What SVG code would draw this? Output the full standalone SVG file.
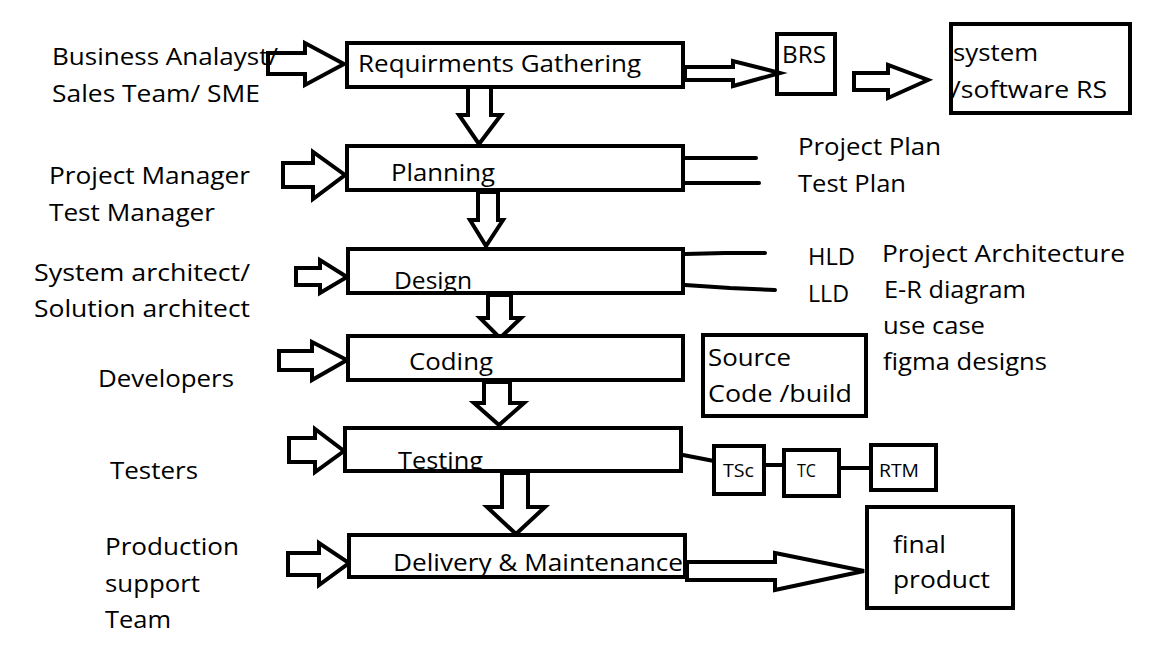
<svg xmlns="http://www.w3.org/2000/svg" width="1152" height="648" viewBox="0 0 1152 648">
  <style>
    .box { fill: none; stroke: #000; stroke-width: 4; }
    .arr { fill: #fff; stroke: #000; stroke-width: 4; stroke-linejoin: miter; }
    .ln { fill: none; stroke: #000; stroke-width: 4; stroke-linecap: round; }
    text { font-family: "Open Sans", "Noto Sans", sans-serif; font-size: 24px; fill: #000; }
    .sm { font-size: 19px; }
  </style>
  <defs>
    <!-- keeps the Testing label inside its box -->
    <clipPath id="testing-clip">
      <rect x="345" y="428" width="336" height="43"/>
    </clipPath>
  </defs>
  <rect width="1152" height="648" fill="#fff"/>

  <!-- connectors: block arrows and plain lines -->
  <g id="connectors">
    <!-- inputs from roles -->
    <polygon class="arr" points="268,53 305,53 305,43 344,64 305,85 305,74 268,74"/>
    <polygon class="arr" points="283,163 313,163 313,152 345,175 313,199 313,187 283,187"/>
    <polygon class="arr" points="296,268 320,268 320,260 347,277 320,293 320,285 296,285"/>
    <polygon class="arr" points="279,351 312,351 312,342 347,360 312,380 312,370 279,370"/>
    <polygon class="arr" points="289,438 315,438 315,429 344,451 315,472 315,462 289,462"/>
    <polygon class="arr" points="288,553 319,553 319,543 349,563 319,585 319,575 288,575"/>
    <!-- phase to phase -->
    <polygon class="arr" points="468,87 491,87 491,115 501,115 479,144 459,115 468,115"/>
    <polygon class="arr" points="478,192 498,192 498,220 503,220 486,246 470,220 478,220"/>
    <polygon class="arr" points="488,295 511,295 511,318 521,318 500,338 480,318 488,318"/>
    <polygon class="arr" points="484,382 510,382 510,403 524,403 499,425 474,403 484,403"/>
    <polygon class="arr" points="502,473 528,473 528,507 545,507 516,534 487,507 502,507"/>
    <!-- outputs -->
    <polygon class="arr" points="685,67 733,67 733,61 780,73 733,86 733,80 685,80"/>
    <polygon class="arr" points="854,73 888,73 888,65 928,80 888,98 888,90 854,90"/>
    <polygon class="arr" points="687,562 775,562 775,553 864,571 775,590 775,580 687,580"/>
    <!-- plan / design outputs -->
    <line class="ln" x1="684" y1="158" x2="756" y2="158"/>
    <line class="ln" x1="684" y1="183" x2="759" y2="183"/>
    <polyline class="ln" points="685,254 725,253 765,253"/>
    <polyline class="ln" points="685,285 730,288 775,290"/>
    <!-- test artefacts chain -->
    <line class="ln" x1="683" y1="455" x2="714" y2="461"/>
    <line class="ln" x1="764" y1="465" x2="784" y2="465"/>
    <line class="ln" x1="839" y1="468" x2="871" y2="468"/>
  </g>

  <!-- role labels on the left -->
  <g id="roles">
    <text x="52" y="65" textLength="226" lengthAdjust="spacingAndGlyphs">Business Analayst/</text>
    <text x="52" y="102" textLength="208" lengthAdjust="spacingAndGlyphs">Sales Team/ SME</text>
    <text x="49" y="184" textLength="201" lengthAdjust="spacingAndGlyphs">Project Manager</text>
    <text x="49" y="221" textLength="166" lengthAdjust="spacingAndGlyphs">Test Manager</text>
    <text x="34" y="281" textLength="216" lengthAdjust="spacingAndGlyphs">System architect/</text>
    <text x="34" y="317" textLength="216" lengthAdjust="spacingAndGlyphs">Solution architect</text>
    <text x="98" y="387" textLength="136" lengthAdjust="spacingAndGlyphs">Developers</text>
    <text x="110" y="479" textLength="88" lengthAdjust="spacingAndGlyphs">Testers</text>
    <text x="105" y="555" textLength="134" lengthAdjust="spacingAndGlyphs">Production</text>
    <text x="105" y="592" textLength="95" lengthAdjust="spacingAndGlyphs">support</text>
    <text x="105" y="628" textLength="66" lengthAdjust="spacingAndGlyphs">Team</text>
  </g>

  <!-- phases -->
  <g id="requirements">
    <rect x="347" y="43" width="336" height="44" fill="#fff"/>
    <text x="358" y="72" textLength="283" lengthAdjust="spacingAndGlyphs">Requirments Gathering</text>
    <rect class="box" x="347" y="43" width="336" height="44"/>
  </g>
  <g id="planning">
    <rect x="347" y="146" width="336" height="44" fill="#fff"/>
    <text x="391" y="181" textLength="104" lengthAdjust="spacingAndGlyphs">Planning</text>
    <rect class="box" x="347" y="146" width="336" height="44"/>
  </g>
  <g id="design">
    <rect x="348" y="249" width="335" height="44" fill="#fff"/>
    <text x="394" y="289" textLength="78" lengthAdjust="spacingAndGlyphs">Design</text>
    <rect class="box" x="348" y="249" width="335" height="44"/>
  </g>
  <g id="coding">
    <rect x="348" y="336" width="335" height="44" fill="#fff"/>
    <text x="409" y="370" textLength="84" lengthAdjust="spacingAndGlyphs">Coding</text>
    <rect class="box" x="348" y="336" width="335" height="44"/>
  </g>
  <g id="testing">
    <rect x="345" y="428" width="336" height="43" fill="#fff"/>
    <text x="398" y="469" textLength="85" lengthAdjust="spacingAndGlyphs" clip-path="url(#testing-clip)">Testing</text>
    <rect class="box" x="345" y="428" width="336" height="43"/>
  </g>
  <g id="delivery">
    <rect x="349" y="535" width="336" height="42" fill="#fff"/>
    <text x="393" y="571" textLength="290" lengthAdjust="spacingAndGlyphs">Delivery &amp; Maintenance</text>
    <rect class="box" x="349" y="535" width="336" height="42"/>
  </g>

  <!-- artefacts -->
  <g id="brs">
    <rect class="box" x="777" y="34" width="58" height="60"/>
    <text x="782" y="63" textLength="44" lengthAdjust="spacingAndGlyphs">BRS</text>
  </g>
  <g id="srs">
    <rect class="box" x="951" y="24" width="179" height="89"/>
    <text x="953" y="61" textLength="85" lengthAdjust="spacingAndGlyphs">system</text>
    <text x="951" y="98" textLength="156" lengthAdjust="spacingAndGlyphs">/software RS</text>
  </g>
  <g id="plans">
    <text x="798" y="155" textLength="143" lengthAdjust="spacingAndGlyphs">Project Plan</text>
    <text x="798" y="192" textLength="108" lengthAdjust="spacingAndGlyphs">Test Plan</text>
  </g>
  <g id="design-docs">
    <text x="808" y="265" textLength="47" lengthAdjust="spacingAndGlyphs">HLD</text>
    <text x="808" y="302" textLength="41" lengthAdjust="spacingAndGlyphs">LLD</text>
    <text x="882" y="262" textLength="243" lengthAdjust="spacingAndGlyphs">Project Architecture</text>
    <text x="884" y="298" textLength="142" lengthAdjust="spacingAndGlyphs">E-R diagram</text>
    <text x="883" y="334" textLength="102" lengthAdjust="spacingAndGlyphs">use case</text>
    <text x="883" y="370" textLength="164" lengthAdjust="spacingAndGlyphs">figma designs</text>
  </g>
  <g id="source">
    <rect class="box" x="703" y="335" width="163" height="81"/>
    <text x="708" y="366" textLength="83" lengthAdjust="spacingAndGlyphs">Source</text>
    <text x="708" y="402" textLength="144" lengthAdjust="spacingAndGlyphs">Code /build</text>
  </g>
  <g id="tsc">
    <rect class="box" x="714" y="446" width="50" height="48"/>
    <text class="sm" x="723" y="477" textLength="31" lengthAdjust="spacingAndGlyphs">TSc</text>
  </g>
  <g id="tc">
    <rect class="box" x="784" y="450" width="55" height="46"/>
    <text class="sm" x="797" y="477" textLength="19" lengthAdjust="spacingAndGlyphs">TC</text>
  </g>
  <g id="rtm">
    <rect class="box" x="871" y="445" width="65" height="45"/>
    <text class="sm" x="879" y="477" textLength="40" lengthAdjust="spacingAndGlyphs">RTM</text>
  </g>
  <g id="final-product">
    <rect class="box" x="867" y="507" width="146" height="101"/>
    <text x="893" y="553" textLength="53" lengthAdjust="spacingAndGlyphs">final</text>
    <text x="893" y="588" textLength="97" lengthAdjust="spacingAndGlyphs">product</text>
  </g>
</svg>
